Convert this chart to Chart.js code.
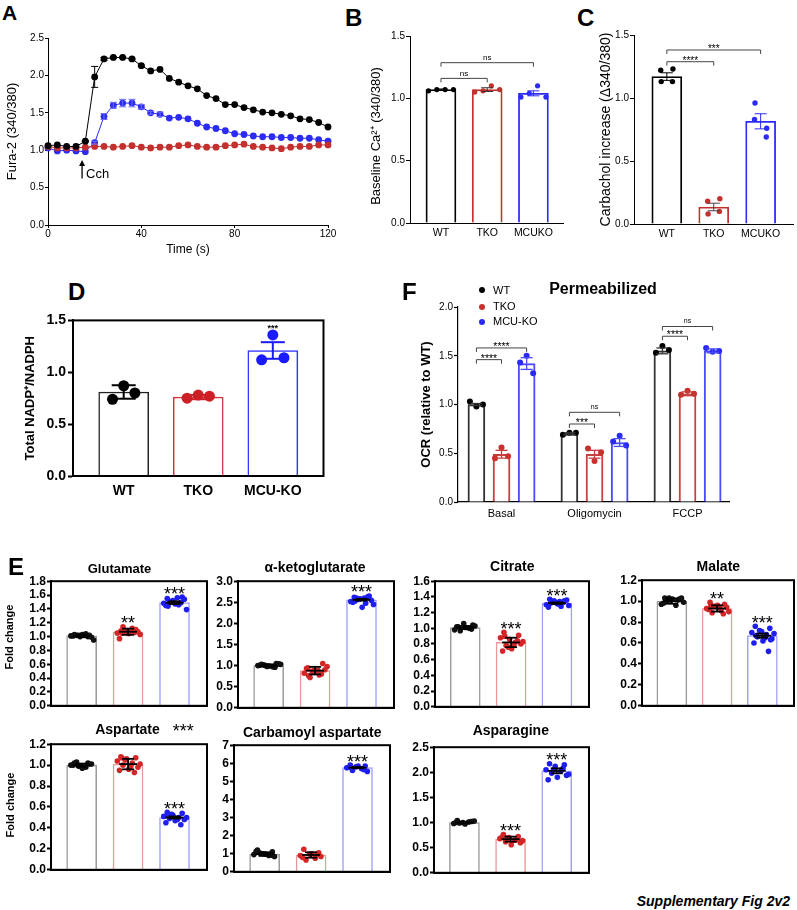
<!DOCTYPE html>
<html>
<head>
<meta charset="utf-8">
<title>Supplementary Fig 2v2</title>
<script src="https://cdn.jsdelivr.net/npm/chart.js@4.4.1/dist/chart.umd.min.js"></script>
<style>
  html, body { margin: 0; padding: 0; background: #fff; }
  body { position: relative; width: 797px; height: 910px; overflow: hidden; font-family: "Liberation Sans", Arial, Helvetica, sans-serif; }
  canvas { position: absolute; }
  .lbl { position: absolute; white-space: nowrap; color: #000; line-height: 1; }
  .dot { position: absolute; width: 6px; height: 6px; border-radius: 50%; }
</style>
</head>
<body>
<script>
// ---------------- data ----------------
// A: Fura-2 ratio traces, one point every 4 s
const timeS   = [0,4,8,12,16,20,24,28,32,36,40,44,48,52,56,60,64,68,72,76,80,84,88,92,96,100,104,108,112,116,120];
const furaWT  = [1.06,1.07,1.05,1.05,1.12,1.98,2.22,2.24,2.24,2.22,2.13,2.06,2.08,1.96,1.91,1.86,1.82,1.73,1.69,1.61,1.61,1.57,1.54,1.51,1.50,1.48,1.46,1.42,1.41,1.37,1.31];
const furaTKO = [1.05,1.03,1.03,1.03,1.04,1.05,1.05,1.04,1.05,1.06,1.04,1.03,1.04,1.04,1.06,1.07,1.05,1.04,1.04,1.06,1.07,1.08,1.05,1.04,1.03,1.02,1.04,1.05,1.05,1.07,1.07];
const furaMCU = [1.03,0.99,1.00,0.99,0.98,1.10,1.45,1.60,1.63,1.63,1.58,1.50,1.48,1.43,1.44,1.42,1.36,1.31,1.29,1.26,1.22,1.21,1.19,1.18,1.18,1.17,1.17,1.16,1.16,1.14,1.12];
const furaWTErr  = [0,0,0,0,0.01,0.14,0.02,0.01,0.01,0.01,0.01,0,0,0,0,0,0,0,0,0,0,0,0,0,0,0,0,0,0,0,0];
const furaMCUErr = [0,0,0,0,0,0.02,0.04,0.04,0.05,0.05,0.03,0.02,0.03,0,0,0,0,0,0,0,0,0,0,0,0,0,0,0,0,0,0];

// B: baseline Ca2+
const bcGroups = ['WT','TKO','MCUKO'];
const baseMean = [1.07, 1.07, 1.04];
const baseErr  = [0.005, 0.015, 0.02];
const basePts  = [[1.06,1.07,1.07,1.07],[1.05,1.06,1.10,1.07],[1.01,1.04,1.10,1.01]];

// C: carbachol increase
const carbMean = [1.17, 0.135, 0.815];
const carbErr  = [0.03, 0.03, 0.06];
const carbPts  = [[1.22,1.13,1.13,1.23],[0.18,0.08,0.10,0.20],[0.83,0.96,0.69,0.76]];

// D: NADP+/NADPH
const dGroups  = ['WT','TKO','MCU-KO'];
const nadpMean = [0.81, 0.76, 1.21];
const nadpErr  = [0.065, 0.02, 0.08];
const nadpPts  = [[0.74,0.87,0.80],[0.75,0.78,0.77],[1.12,1.36,1.14]];

// F: OCR permeabilized
const fConds   = ['Basal','Oligomycin','FCCP'];
const fGroups  = ['WT','TKO','MCU-KO'];
const ocrWT    = [1.00, 0.70, 1.55];
const ocrTKO   = [0.49, 0.49, 1.11];
const ocrMCU   = [1.42, 0.61, 1.55];
const ocrWTErr  = [0.01, 0.01, 0.03];
const ocrTKOErr = [0.04, 0.04, 0.02];
const ocrMCUErr = [0.06, 0.04, 0.02];
const ocrWTPts  = [[1.03,0.98,1.00],[0.69,0.71,0.71],[1.53,1.60,1.56]];
const ocrTKOPts = [[0.45,0.56,0.47],[0.55,0.42,0.51],[1.10,1.14,1.11]];
const ocrMCUPts = [[1.43,1.50,1.32],[0.62,0.68,0.58],[1.58,1.54,1.55]];

// E: metabolite fold changes (WT, TKO, MCU-KO)
const metNames = ['Glutamate','α-ketoglutarate','Citrate','Malate','Aspartate','Carbamoyl aspartate','Asparagine'];
const metMean  = [[1.01,1.07,1.49],[1.00,0.88,2.56],[1.01,0.82,1.32],[1.00,0.93,0.67],[1.00,1.01,0.50],[0.98,0.93,5.76],[1.00,0.67,2.03]];
const metErr   = [[0.02,0.045,0.02],[0.03,0.09,0.02],[0.02,0.06,0.01],[0.025,0.03,0.02],[0.015,0.05,0.01],[0.10,0.15,0.03],[0.015,0.05,0.05]];
const metYMax  = [1.8, 3.0, 1.6, 1.2, 1.2, 7, 2.5];
const metYStep = [0.2, 0.5, 0.2, 0.2, 0.2, 1, 0.5];
const metSig   = [['','**','***'],['','','***'],['','***','***'],['','**','***'],['','','***'],['','','***'],['','***','***']];
const gluPts = [[1.03,1.02,1.00,1.01,1.04,1.02,0.99,1.03,1.01,1.00,1.02,0.95],
                [1.08,1.10,1.06,1.05,1.12,1.14,1.07,1.04,0.97,1.06,1.09,1.03,1.08,1.05],
                [1.55,1.57,1.52,1.48,1.46,1.50,1.54,1.47,1.45,1.49,1.51,1.39,1.56,1.44]];
const akgPts = [[1.03,1.05,0.98,1.00,0.97,1.02,1.04,0.99,1.01,0.96,1.00,1.03],
                [0.95,1.05,0.88,0.82,0.78,0.72,0.90,0.85,0.93,0.80,0.86,0.98,0.89,0.76],
                [2.62,2.65,2.58,2.52,2.48,2.60,2.55,2.38,2.50,2.63,2.57,2.45,2.60,2.53]];
const citPts = [[1.02,1.04,1.06,0.98,1.00,0.97,1.03,1.01,1.02,0.99],
                [0.95,0.91,0.86,0.88,0.82,0.78,0.80,0.74,0.71,0.84,0.76,0.83,0.79,0.90],
                [1.37,1.35,1.33,1.30,1.28,1.34,1.36,1.31,1.27,1.33,1.35,1.29,1.34,1.32]];
const malPts = [[1.03,1.02,1.01,0.97,0.96,1.00,1.03,1.02,0.98,1.01,1.03,0.99],
                [0.99,0.97,0.95,0.93,0.91,0.89,0.94,0.96,0.92,0.88,0.95,0.90,0.94,0.96],
                [0.76,0.74,0.71,0.70,0.68,0.66,0.64,0.62,0.60,0.52,0.72,0.69,0.65,0.67,0.63,0.71]];
const aspPts = [[1.02,1.01,0.99,1.00,0.98,1.03,1.01,0.97,1.00,1.02,0.99],
                [1.08,1.07,1.06,1.04,1.02,1.00,0.98,0.96,0.95,0.93,1.05,1.01,0.99,1.07],
                [0.55,0.54,0.52,0.51,0.50,0.49,0.48,0.47,0.45,0.43,0.53,0.50,0.48,0.52]];
const cbaPts = [[1.20,1.10,1.00,0.95,0.90,1.05,0.85,0.98,1.12,0.92],
                [1.25,1.05,0.98,0.90,0.75,0.65,0.85,1.00,0.80,0.95],
                [5.90,5.85,5.80,5.75,5.70,5.60,5.55,5.85,5.78,5.65]];
const asnPts = [[1.04,1.02,1.00,0.98,1.01,0.99,1.03,0.97,1.00,1.02],
                [0.76,0.72,0.70,0.68,0.65,0.62,0.60,0.56,0.71,0.66,0.69,0.64],
                [2.17,2.15,2.12,2.05,2.02,1.98,1.94,1.90,1.85,2.08,2.05,1.96]];
const metPts = [gluPts, akgPts, citPts, malPts, aspPts, cbaPts, asnPts];

// ---------------- styling ----------------
const FONT = '"Liberation Sans", Arial, Helvetica, sans-serif';
Chart.defaults.font.family = FONT;
Chart.defaults.color = '#000';
const RED = '#c4302e', BLUE = '#2b2bf3';

// canvas placed so that the plot rect (l,t,r,b) lands at fixed page pixels
function makeCanvas(g) {
  const c = document.createElement('canvas');
  const left = g.l - g.yw, top = g.t - g.padT;
  const w = g.r + g.padR - left, h = g.b + g.xh - top;
  c.width = w; c.height = h;
  c.style.left = left + 'px'; c.style.top = top + 'px';
  c.style.width = w + 'px'; c.style.height = h + 'px';
  document.body.appendChild(c);
  g.cLeft = left; g.cTop = top;
  return c;
}

function htmlText(str, x, base, size, weight, align, extra) {
  const d = document.createElement('div');
  d.className = 'lbl';
  d.textContent = str;
  d.style.fontSize = size + 'px';
  d.style.fontWeight = weight || 'normal';
  if (extra) d.style.fontStyle = extra;
  d.style.top = (base - 0.8465 * size) + 'px';
  if (align === 'center') { d.style.left = x + 'px'; d.style.transform = 'translateX(-50%)'; }
  else if (align === 'right') { d.style.right = (797 - x) + 'px'; }
  else d.style.left = x + 'px';
  document.body.appendChild(d);
}

function drawLabel(ctx, text, x, cy, size, weight) {
  ctx.font = (weight || 'normal') + ' ' + size + 'px ' + FONT;
  ctx.fillStyle = '#000';
  ctx.textAlign = 'center';
  ctx.textBaseline = 'alphabetic';
  const k = text.includes('*') ? 0.58 : 0.27;
  ctx.fillText(text, x, cy + k * size);
}

// error bars, brackets, stars, frame drawn through the chart's own scales
function makeAnnot(cfg) {
  return {
    id: 'annot',
    afterDraw(chart) {
      const { ctx, chartArea: ca } = chart;
      const xs = chart.scales.x, ys = chart.scales.y;
      const X = v => xs.getPixelForValue(v), Y = v => ys.getPixelForValue(v);
      const seg = (x1, y1, x2, y2) => { ctx.beginPath(); ctx.moveTo(x1, y1); ctx.lineTo(x2, y2); ctx.stroke(); };
      ctx.save();
      (cfg.errs || []).forEach(e => {
        if (!e.err) return;
        const px = X(e.x), hi = Y(e.y + e.err), lo = Y(e.y - e.err);
        ctx.strokeStyle = e.color; ctx.lineWidth = e.lw;
        seg(px, hi, px, lo);
        seg(px - e.cap, hi, px + e.cap, hi);
        seg(px - e.cap, lo, px + e.cap, lo);
        if (e.mean) seg(px - e.mean, Y(e.y), px + e.mean, Y(e.y));
      });
      (cfg.brackets || []).forEach(b => {
        const x1 = X(b.from), x2 = X(b.to), py = Y(b.y);
        ctx.strokeStyle = '#444'; ctx.lineWidth = 1;
        ctx.beginPath(); ctx.moveTo(x1, py + 4); ctx.lineTo(x1, py); ctx.lineTo(x2, py); ctx.lineTo(x2, py + 4); ctx.stroke();
        drawLabel(ctx, b.text, (x1 + x2) / 2, py - b.gap, b.size, b.weight);
      });
      (cfg.stars || []).forEach(s => {
        if (s.text) drawLabel(ctx, s.text, X(s.x), Y(s.y) - s.gap, s.size, s.weight);
      });
      if (cfg.arrow) {
        const a = cfg.arrow, px = X(a.x), y1 = Y(a.y1), y2 = Y(a.y2);
        ctx.strokeStyle = '#000'; ctx.fillStyle = '#000'; ctx.lineWidth = 1.3;
        seg(px, y1, px, y2 + 4);
        ctx.beginPath(); ctx.moveTo(px, y2); ctx.lineTo(px - 3, y2 + 6); ctx.lineTo(px + 3, y2 + 6); ctx.closePath(); ctx.fill();
        ctx.font = a.size + 'px ' + FONT; ctx.textAlign = 'left'; ctx.textBaseline = 'alphabetic';
        ctx.fillText(a.text, X(a.tx), Y(a.ty));
      }
      if (cfg.ytitle) {
        // axis title centred where the figure has it, rather than on the plot centre
        const t = cfg.ytitle;
        ctx.save();
        ctx.translate(t.x, t.y); ctx.rotate(-Math.PI / 2);
        ctx.font = t.weight + ' ' + t.size + 'px ' + FONT; ctx.fillStyle = '#000';
        ctx.textAlign = 'center'; ctx.textBaseline = 'middle';
        ctx.fillText(t.text, 0, 0);
        ctx.restore();
      }
      if (cfg.frame) {
        ctx.strokeStyle = '#000'; ctx.lineWidth = cfg.frame;
        ctx.strokeRect(ca.left, ca.top, ca.right - ca.left, ca.bottom - ca.top);
      }
      ctx.restore();
    }
  };
}

function yAxis(g, max, step, s) {
  return {
    min: 0, max: max,
    afterFit: sc => { sc.width = g.yw; },
    border: { color: '#000', width: s.axisW },
    grid: { drawOnChartArea: false, drawTicks: true, tickLength: s.tickLen, tickColor: '#000', tickWidth: s.axisW },
    ticks: { stepSize: step, autoSkip: false, padding: s.tickPad, color: '#000',
             font: { size: s.tickSize, weight: s.weight },
             callback: v => s.intTicks ? String(Math.round(v)) : v.toFixed(1) },
    title: { display: !!s.title, text: s.title || '', padding: 0, color: '#000',
             font: { size: s.titleSize, weight: s.weight } }
  };
}

function xAxis(g, min, max, names, s) {
  return {
    type: 'linear', min: min, max: max, offset: false,
    afterFit: sc => { sc.height = g.xh; },
    afterBuildTicks: sc => { sc.ticks = names.map((n, i) => ({ value: i })); },
    border: { color: '#000', width: s.axisW },
    grid: { drawOnChartArea: false, drawTicks: false, offset: false },
    ticks: { display: s.showLabels, autoSkip: false, maxRotation: 0, padding: s.labPad, color: '#000',
             font: { size: s.labSize, weight: s.weight },
             callback: v => names[Math.round(v)] }
  };
}

function barPanel(g, o) {
  const cv = makeCanvas(g);
  const datasets = [{
    type: 'bar', order: 3, grouped: false,
    data: o.means.map((m, i) => ({ x: i, y: m })),
    backgroundColor: '#ffffff', borderColor: o.barColors, borderWidth: o.barLW, barThickness: o.barW
  }];
  o.pts.forEach((arr, gi) => datasets.push({
    type: 'scatter', order: 1,
    data: arr.map((v, k) => ({ x: gi + o.jitter(k, arr.length), y: v })),
    pointRadius: o.dotR, pointHoverRadius: o.dotR, pointBorderWidth: 0,
    pointBackgroundColor: o.dotColors[gi]
  }));
  const errs = o.means.map((m, i) => ({ x: i, y: m, err: o.errs[i], color: o.errColors[i], lw: o.errLW, cap: o.cap, mean: o.meanHalf || 0 }));
  let ytitle = null;
  if (o.ytitle) ytitle = Object.assign({}, o.ytitle, { x: o.ytitle.px - g.cLeft, y: o.ytitle.py - g.cTop });
  new Chart(cv, {
    type: 'bar',
    data: { datasets },
    options: {
      responsive: false, animation: false,
      layout: { padding: { left: 0, top: g.padT, right: g.padR, bottom: 0 } },
      scales: { x: o.x, y: o.y },
      plugins: { legend: { display: false }, tooltip: { enabled: false } }
    },
    plugins: [makeAnnot({ frame: o.frame, errs, brackets: o.brackets, stars: o.stars, ytitle })]
  });
}

// ---------------- panel A ----------------
(function () {
  const g = { l: 48, t: 38, r: 328, b: 225, yw: 43, xh: 32, padT: 10, padR: 12 };
  const cv = makeCanvas(g);
  const xy = arr => arr.map((v, i) => ({ x: timeS[i], y: v }));
  const line = (arr, col) => ({
    data: xy(arr), borderColor: col, backgroundColor: col, borderWidth: 1,
    pointRadius: 3.4, pointHoverRadius: 3.4, pointBorderWidth: 0, pointBackgroundColor: col, clip: false
  });
  const errs = [];
  furaWTErr.forEach((e, i) => errs.push({ x: timeS[i], y: furaWT[i], err: e, color: '#000', lw: 1, cap: 3.5 }));
  furaMCUErr.forEach((e, i) => errs.push({ x: timeS[i], y: furaMCU[i], err: e, color: '#6b6bf5', lw: 1, cap: 3.5 }));
  new Chart(cv, {
    type: 'line',
    data: { datasets: [line(furaWT, '#000'), line(furaTKO, RED), line(furaMCU, BLUE)] },
    options: {
      responsive: false, animation: false,
      layout: { padding: { left: 0, top: g.padT, right: g.padR, bottom: 0 } },
      scales: {
        x: {
          type: 'linear', min: 0, max: 120,
          afterFit: sc => { sc.height = g.xh; },
          border: { color: '#000', width: 1 },
          grid: { drawOnChartArea: false, drawTicks: true, tickLength: 3, tickColor: '#000' },
          ticks: { stepSize: 40, padding: 0, font: { size: 10 }, color: '#000', maxRotation: 0 },
          title: { display: true, text: 'Time (s)', padding: 0, font: { size: 12 }, color: '#000' }
        },
        y: yAxis(g, 2.5, 0.5, { axisW: 1, tickLen: 3, tickPad: 1, tickSize: 10, weight: 'normal', title: 'Fura-2 (340/380)', titleSize: 13 })
      },
      plugins: { legend: { display: false }, tooltip: { enabled: false } }
    },
    plugins: [makeAnnot({ errs, arrow: { x: 14.6, y1: 0.62, y2: 0.87, text: 'Cch', tx: 16.3, ty: 0.625, size: 13 } })]
  });
})();

// ---------------- panel B ----------------
(function () {
  const g = { l: 410, t: 36, r: 563, b: 223, yw: 42, xh: 18, padT: 10, padR: 8 };
  const st = { axisW: 1, tickLen: 4, tickPad: 1, tickSize: 10, weight: 'normal', title: '', titleSize: 13,
               showLabels: true, labPad: 4, labSize: 10.5 };
  barPanel(g, {
    means: baseMean, errs: baseErr, pts: basePts,
    barColors: ['#000', RED, BLUE], dotColors: ['#000', RED, BLUE], errColors: ['#000', '#333', BLUE],
    barLW: 1.8, barW: 30, dotR: 2.6, errLW: 1, cap: 6,
    jitter: (k, n) => -0.27 + 0.54 * k / (n - 1),
    x: xAxis(g, -0.67, 2.64, bcGroups, st), y: yAxis(g, 1.5, 0.5, st),
    ytitle: { text: 'Baseline Ca²⁺ (340/380)', px: 376, py: 136, size: 13, weight: 'normal' },
    brackets: [{ from: 0, to: 1, y: 1.16, text: 'ns', gap: 5, size: 8 },
               { from: 0, to: 2, y: 1.286, text: 'ns', gap: 5, size: 8 }]
  });
})();

// ---------------- panel C ----------------
(function () {
  const g = { l: 634, t: 35, r: 793, b: 224, yw: 36, xh: 18, padT: 10, padR: 3 };
  const st = { axisW: 1, tickLen: 4, tickPad: 1, tickSize: 10, weight: 'normal', title: 'Carbachol increase (Δ340/380)', titleSize: 14,
               showLabels: true, labPad: 4, labSize: 10.5 };
  barPanel(g, {
    means: carbMean, errs: carbErr, pts: carbPts,
    barColors: ['#000', RED, BLUE], dotColors: ['#000', RED, BLUE], errColors: ['#000', '#444', BLUE],
    barLW: 1.8, barW: 30, dotR: 2.7, errLW: 1, cap: 6,
    jitter: (k, n) => [-0.13, -0.12, 0.12, 0.13][k] || 0,
    x: xAxis(g, -0.70, 2.69, bcGroups, st), y: yAxis(g, 1.5, 0.5, st),
    brackets: [{ from: 0, to: 1, y: 1.288, text: '****', gap: 4, size: 10 },
               { from: 0, to: 2, y: 1.381, text: '***', gap: 4, size: 10 }]
  });
})();

// ---------------- panel D ----------------
(function () {
  const g = { l: 73, t: 320, r: 325, b: 476, yw: 50, xh: 26, padT: 10, padR: 4 };
  const st = { axisW: 2, tickLen: 5, tickPad: 2, tickSize: 14, weight: 'bold', title: 'Total NADP⁺/NADPH', titleSize: 13,
               showLabels: true, labPad: 7, labSize: 14 };
  barPanel(g, {
    means: nadpMean, errs: nadpErr, pts: nadpPts,
    barColors: ['#222', '#d4313a', '#3030ff'], dotColors: ['#000', '#cc1f26', '#1a1aff'], errColors: ['#000', '#cc1f26', '#1a1aff'],
    barLW: 1.5, barW: 50, dotR: 5.5, errLW: 2, cap: 12,
    jitter: (k, n) => [-0.15, 0, 0.15][k],
    x: xAxis(g, -0.68, 2.68, dGroups, st), y: yAxis(g, 1.5, 0.5, st),
    frame: 2,
    stars: [{ x: 2, y: 1.45, text: '***', gap: 0, size: 9, weight: 'bold' }]
  });
})();

// ---------------- panel F ----------------
(function () {
  const g = { l: 458, t: 307, r: 729, b: 502, yw: 39, xh: 22, padT: 10, padR: 12 };
  const cv = makeCanvas(g);
  const slot = [-0.27, 0, 0.27];
  const means = [ocrWT, ocrTKO, ocrMCU], errsArr = [ocrWTErr, ocrTKOErr, ocrMCUErr], ptsArr = [ocrWTPts, ocrTKOPts, ocrMCUPts];
  const barCols = ['#333333', '#c94040', '#4a4aff'], dotCols = ['#000', '#c8302e', '#2a2af5'];
  const datasets = [], errs = [];
  means.forEach((arr, gi) => {
    datasets.push({ type: 'bar', order: 3, grouped: false, data: arr.map((m, ci) => ({ x: ci + slot[gi], y: m })),
                    backgroundColor: '#ffffff', borderColor: barCols[gi], borderWidth: 2, barThickness: 17 });
    arr.forEach((m, ci) => errs.push({ x: ci + slot[gi], y: m, err: errsArr[gi][ci], color: barCols[gi], lw: 1.3, cap: 6 }));
  });
  ptsArr.forEach((cond, gi) => {
    const data = [];
    cond.forEach((vals, ci) => vals.forEach((v, k) => data.push({ x: ci + slot[gi] + [-0.07, 0, 0.07][k], y: v })));
    datasets.push({ type: 'scatter', order: 1, data, pointRadius: 3, pointHoverRadius: 3, pointBorderWidth: 0, pointBackgroundColor: dotCols[gi] });
  });
  const st = { axisW: 1.2, tickLen: 4, tickPad: 1, tickSize: 10, weight: 'normal', title: 'OCR (relative to WT)', titleSize: 13,
               showLabels: true, labPad: 5, labSize: 11 };
  const yS = yAxis(g, 2.0, 0.5, st);
  yS.title.font.weight = 'bold';
  new Chart(cv, {
    type: 'bar',
    data: { datasets },
    options: {
      responsive: false, animation: false,
      layout: { padding: { left: 0, top: g.padT, right: g.padR, bottom: 0 } },
      scales: { x: xAxis(g, -0.468, 2.446, fConds, st), y: yS },
      plugins: { legend: { display: false }, tooltip: { enabled: false } }
    },
    plugins: [makeAnnot({ errs, brackets: [
      { from: -0.27, to: 0, y: 1.46, text: '****', gap: 4, size: 10.5 },
      { from: -0.27, to: 0.27, y: 1.58, text: '****', gap: 4, size: 10.5 },
      { from: 0.73, to: 1, y: 0.80, text: '***', gap: 4, size: 10.5 },
      { from: 0.73, to: 1.27, y: 0.92, text: 'ns', gap: 5, size: 7 },
      { from: 1.73, to: 2, y: 1.70, text: '****', gap: 4, size: 10.5 },
      { from: 1.73, to: 2.27, y: 1.80, text: 'ns', gap: 5, size: 7 }
    ] })]
  });
  // legend
  [['WT', '#000', 290], ['TKO', '#c8302e', 306.7], ['MCU-KO', '#2a2af5', 321.7]].forEach(([t, c, y]) => {
    const d = document.createElement('div');
    d.className = 'dot'; d.style.background = c; d.style.left = '479px'; d.style.top = (y - 3) + 'px';
    document.body.appendChild(d);
    htmlText(t, 493, y + 4, 11, 'normal', 'left');
  });
  htmlText('Permeabilized', 603, 295, 16, 'bold', 'center');
})();

// ---------------- panel E ----------------
const eGeom = [
  { l: 51, t: 581, r: 207, b: 711, yw: 48 }, { l: 238, t: 581, r: 394, b: 713, yw: 30 },
  { l: 435, t: 581, r: 589, b: 712, yw: 30 }, { l: 642, t: 580, r: 794, b: 711, yw: 30 },
  { l: 51, t: 744, r: 207, b: 875, yw: 48 }, { l: 234, t: 745, r: 390, b: 877, yw: 30 },
  { l: 434, t: 747, r: 589, b: 878, yw: 30 }
];
const eTitlePos = [[119.5, 573], [315, 572], [512.3, 571], [718.3, 570.5], [127.5, 733.5], [312.2, 737], [510.8, 735]];
const eYTitle = { 0: [9.5, 637], 4: [11, 805] };
metNames.forEach((name, m) => {
  const g = Object.assign({ xh: 3, padT: 8, padR: 3 }, eGeom[m]);
  const st = { axisW: 2, tickLen: 4, tickPad: 1, tickSize: 12, weight: 'bold', title: '', titleSize: 11,
               intTicks: metYStep[m] === 1, showLabels: false, labPad: 0, labSize: 10 };
  const pts = metPts[m];
  barPanel(g, {
    means: metMean[m], errs: metErr[m], pts: pts,
    barColors: ['#9a9a9a', '#e89a9a', '#a0a0fc'], dotColors: ['#111', '#d42626', '#1e1ef0'], errColors: ['#000', '#000', '#000'],
    barLW: 1.5, barW: 30, dotR: 2.8, errLW: 1.8, cap: 6, meanHalf: 9,
    jitter: (k, n) => -0.26 + 0.52 * ((k * 0.618034 + 0.2) % 1),
    x: xAxis(g, -0.66, 2.70, ['', '', ''], st), y: yAxis(g, metYMax[m], metYStep[m], st),
    frame: 2,
    ytitle: eYTitle[m] ? { text: 'Fold change', px: eYTitle[m][0], py: eYTitle[m][1], size: 11, weight: 'bold' } : null,
    stars: metSig[m].map((s, gi) => ({ x: gi, y: Math.max(...pts[gi]), text: s, gap: 8, size: 18 }))
  });
  htmlText(name, eTitlePos[m][0], eTitlePos[m][1], m === 0 ? 13 : 14, 'bold', 'center');
});
htmlText('***', 183.3, 737, 18, 'normal', 'center');

// ---------------- panel letters & caption ----------------
htmlText('A', 2, 20, 21, 'bold', 'left');
htmlText('B', 345, 26.7, 24, 'bold', 'left');
htmlText('C', 577, 26.7, 24, 'bold', 'left');
htmlText('D', 68, 300, 24, 'bold', 'left');
htmlText('F', 402, 300, 24, 'bold', 'left');
htmlText('E', 8, 575, 24, 'bold', 'left');
htmlText('Supplementary Fig 2v2', 790, 906, 14, 'bold', 'right', 'italic');
</script>
</body>
</html>
